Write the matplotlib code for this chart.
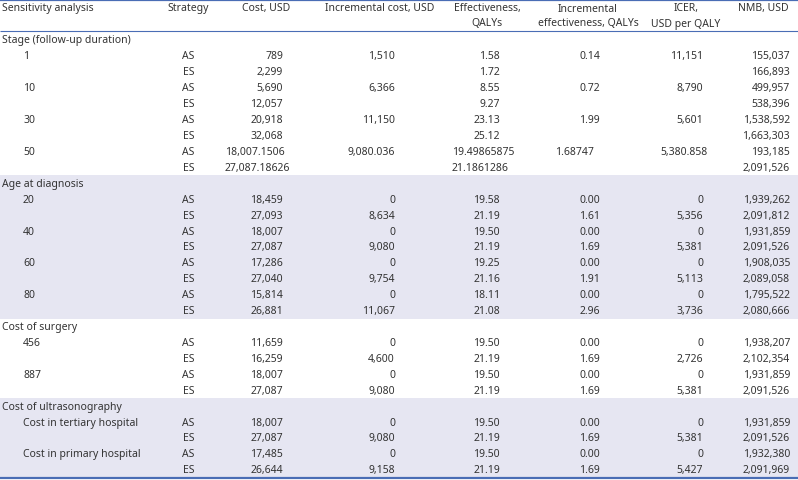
import matplotlib
matplotlib.use("Agg")
import matplotlib.pyplot as plt
from matplotlib.patches import Rectangle

# ---------------- data ----------------
headers = ["Sensitivity analysis", "Strategy", "Cost, USD", "Incremental cost, USD",
           "Effectiveness,\nQALYs", "Incremental\neffectiveness, QALYs",
           "ICER,\nUSD per QALY", "NMB, USD"]
groups = ["Stage (follow-up duration)", "Age at diagnosis", "Cost of surgery",
          "Cost of ultrasonography"]
subgroups = [["1", "10", "30", "50"],
             ["20", "40", "60", "80"],
             ["456", "887"],
             ["Cost in tertiary hospital", "Cost in primary hospital"]]
strategies = ["AS", "ES"]
cost = ["789", "2,299", "5,690", "12,057", "20,918", "32,068", "18,007.1506", "27,087.18626",
        "18,459", "27,093", "18,007", "27,087", "17,286", "27,040", "15,814", "26,881",
        "11,659", "16,259", "18,007", "27,087",
        "18,007", "27,087", "17,485", "26,644"]
inc_cost = ["1,510", "", "6,366", "", "11,150", "", "9,080.036", "",
            "0", "8,634", "0", "9,080", "0", "9,754", "0", "11,067",
            "0", "4,600", "0", "9,080",
            "0", "9,080", "0", "9,158"]
effect = ["1.58", "1.72", "8.55", "9.27", "23.13", "25.12", "19.49865875", "21.1861286",
          "19.58", "21.19", "19.50", "21.19", "19.25", "21.16", "18.11", "21.08",
          "19.50", "21.19", "19.50", "21.19",
          "19.50", "21.19", "19.50", "21.19"]
inc_effect = ["0.14", "", "0.72", "", "1.99", "", "1.68747", "",
              "0.00", "1.61", "0.00", "1.69", "0.00", "1.91", "0.00", "2.96",
              "0.00", "1.69", "0.00", "1.69",
              "0.00", "1.69", "0.00", "1.69"]
icer = ["11,151", "", "8,790", "", "5,601", "", "5,380.858", "",
        "0", "5,356", "0", "5,381", "0", "5,113", "0", "3,736",
        "0", "2,726", "0", "5,381",
        "0", "5,381", "0", "5,427"]
nmb = ["155,037", "166,893", "499,957", "538,396", "1,538,592", "1,663,303", "193,185", "2,091,526",
       "1,939,262", "2,091,812", "1,931,859", "2,091,526", "1,908,035", "2,089,058", "1,795,522", "2,080,666",
       "1,938,207", "2,102,354", "1,931,859", "2,091,526",
       "1,931,859", "2,091,526", "1,932,380", "2,091,969"]
shaded_groups = [1, 3]

# ---------------- layout ----------------
W, H = 798, 481
fig = plt.figure(figsize=(W / 100, H / 100), dpi=100)
ax = fig.add_axes([0, 0, 1, 1])
ax.set_xlim(0, W)
ax.set_ylim(H, 0)
ax.axis("off")

FONT = "Noto Sans"
FS = 7.5
TXT = "#333333"
SHADE = "#e6e6f2"
BLUE = "#4a6db5"

y0 = 41.0
pitch = 15.92

num_cols = [cost, inc_cost, effect, inc_effect, icer, nmb]
right_edges = [283, 395, 500, 600, 703, 790]
left_edges = [225, 348, 452, 555, 660, 735]

def is_long(s):
    return "." in s and len(s.split(".")[1]) > 2

row = 0
data_i = 0
for gi, g in enumerate(groups):
    nrows = 1 + 2 * len(subgroups[gi])
    if gi in shaded_groups:
        top = y0 + (row - 0.5) * pitch
        ax.add_patch(Rectangle((0, top), W, nrows * pitch, facecolor=SHADE,
                               edgecolor="none", zorder=0))
    ax.text(2, y0 + row * pitch, g, ha="left", va="center", fontsize=FS,
            family=FONT, color=TXT)
    row += 1
    for sg in subgroups[gi]:
        for si, st in enumerate(strategies):
            y = y0 + row * pitch
            if si == 0:
                ax.text(23, y, sg, ha="left", va="center", fontsize=FS,
                        family=FONT, color=TXT)
            ax.text(188.5, y, st, ha="center", va="center", fontsize=FS,
                    family=FONT, color=TXT)
            for ci, col in enumerate(num_cols):
                s = col[data_i]
                if not s:
                    continue
                if is_long(s):
                    ax.text(left_edges[ci], y, s, ha="left", va="center",
                            fontsize=FS, family=FONT, color=TXT)
                else:
                    ax.text(right_edges[ci], y, s, ha="right", va="center",
                            fontsize=FS, family=FONT, color=TXT)
            row += 1
            data_i += 1

# header
hy1, hy2 = 9, 24
ax.text(2, hy1, headers[0], ha="left", va="center", fontsize=FS, family=FONT, color=TXT)
ax.text(188, hy1, headers[1], ha="center", va="center", fontsize=FS, family=FONT, color=TXT)
ax.text(266, hy1, headers[2], ha="center", va="center", fontsize=FS, family=FONT, color=TXT)
ax.text(380, hy1, headers[3], ha="center", va="center", fontsize=FS, family=FONT, color=TXT)
for cx, h in zip([487, 588, 686], headers[4:7]):
    l1, l2 = h.split("\n")
    ax.text(cx, hy1, l1, ha="center", va="center", fontsize=FS, family=FONT, color=TXT)
    ax.text(cx, hy2, l2, ha="center", va="center", fontsize=FS, family=FONT, color=TXT)
ax.text(789, hy1, headers[7], ha="right", va="center", fontsize=FS, family=FONT, color=TXT)

# rules
ax.plot([0, W], [1, 1], color=BLUE, lw=1.6, solid_capstyle="butt")
ax.plot([0, W], [32, 32], color=BLUE, lw=0.8, solid_capstyle="butt")
bottom = y0 + (row - 0.5) * pitch
ax.plot([0, W], [bottom + 0.5, bottom + 0.5], color=BLUE, lw=1.6, solid_capstyle="butt")

fig.savefig("out.png", dpi=100, facecolor="white")
